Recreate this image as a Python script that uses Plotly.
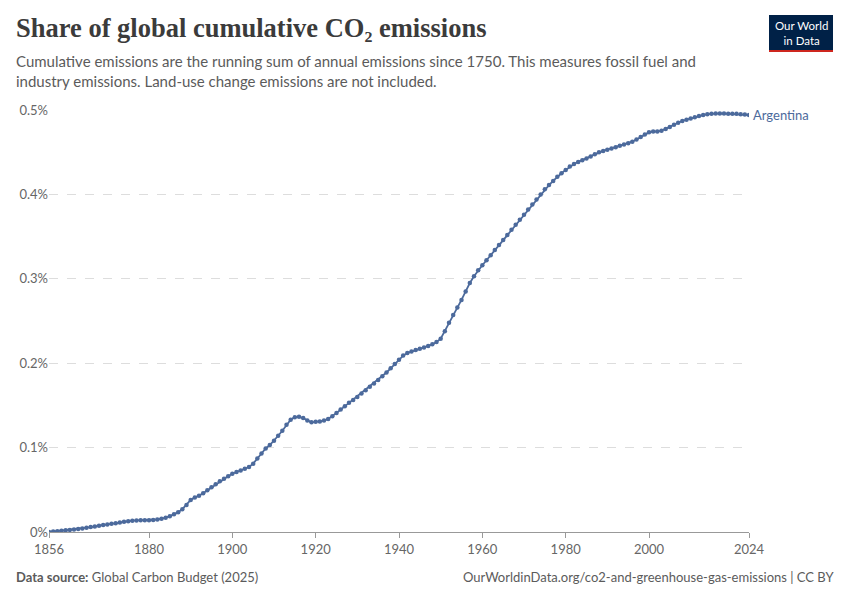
import plotly.graph_objects as go

# ---------------------------------------------------------
# DATA: Argentina share of global cumulative CO2 (%)
# ---------------------------------------------------------

years = list(range(1856, 2025))

share = [
    # 1856-1879
    0.0000, 0.0005, 0.0010, 0.0015, 0.0020, 0.0025, 0.0030, 0.0036, 0.0042, 0.0050,
    0.0058, 0.0066, 0.0074, 0.0082, 0.0090, 0.0097, 0.0104, 0.0112, 0.0120, 0.0128,
    0.0134, 0.0137, 0.0138, 0.0139,
    # 1880-1899
    0.0140, 0.0143, 0.0148, 0.0157, 0.0170, 0.0188, 0.0210, 0.0235, 0.0270, 0.0320,
    0.0380, 0.0410, 0.0430, 0.0460, 0.0495, 0.0530, 0.0565, 0.0600, 0.0630, 0.0660,
    # 1900-1919
    0.0690, 0.0710, 0.0730, 0.0750, 0.0770, 0.0810, 0.0870, 0.0930, 0.0990, 0.1030,
    0.1080, 0.1140, 0.1200, 0.1270, 0.1330, 0.1360, 0.1365, 0.1350, 0.1320, 0.1300,
    # 1920-1939
    0.1305, 0.1310, 0.1320, 0.1340, 0.1370, 0.1410, 0.1450, 0.1490, 0.1530, 0.1565,
    0.1600, 0.1640, 0.1680, 0.1720, 0.1760, 0.1800, 0.1845, 0.1890, 0.1940, 0.1990,
    # 1940-1959
    0.2040, 0.2090, 0.2120, 0.2140, 0.2155, 0.2170, 0.2185, 0.2205, 0.2225, 0.2250,
    0.2290, 0.2380, 0.2480, 0.2570, 0.2660, 0.2750, 0.2850, 0.2950, 0.3030, 0.3100,
    # 1960-1979
    0.3160, 0.3220, 0.3280, 0.3340, 0.3400, 0.3460, 0.3520, 0.3580, 0.3640, 0.3700,
    0.3760, 0.3820, 0.3880, 0.3940, 0.4000, 0.4060, 0.4110, 0.4160, 0.4210, 0.4250,
    # 1980-1999
    0.4290, 0.4330, 0.4360, 0.4385, 0.4405, 0.4425, 0.4450, 0.4475, 0.4500, 0.4515,
    0.4530, 0.4545, 0.4560, 0.4575, 0.4590, 0.4605, 0.4625, 0.4650, 0.4680, 0.4710,
    # 2000-2019
    0.4735, 0.4745, 0.4745, 0.4755, 0.4775, 0.4800, 0.4825, 0.4850, 0.4870, 0.4885,
    0.4900, 0.4915, 0.4930, 0.4940, 0.4950, 0.4955, 0.4960, 0.4960, 0.4958, 0.4955,
    # 2020-2024
    0.4955, 0.4955, 0.4950, 0.4948, 0.4940,
]

x_ticks = [1856, 1880, 1900, 1920, 1940, 1960, 1980, 2000, 2024]
y_ticks = [0, 0.1, 0.2, 0.3, 0.4, 0.5]
y_tick_labels = ["0%", "0.1%", "0.2%", "0.3%", "0.4%", "0.5%"]

country = "Argentina"
line_color = "#4C6A9C"

# page body adds an 8px offset, so the figure is 8px smaller than the window
W, H = 842, 592
ML, MR, MT, MB = 41, 101, 102, 68
PW, PH = W - ML - MR, H - MT - MB


def px(x_ref):
    # window pixel x -> paper x
    return (x_ref - 8 - ML) / PW


def py(y_ref):
    # window pixel y (from top) -> paper y
    return (H - (y_ref - 8) - MB) / PH


# ---------------------------------------------------------
# FIGURE
# ---------------------------------------------------------

fig = go.Figure()

fig.add_trace(go.Scatter(
    x=years, y=share, mode="lines+markers", name=country,
    line=dict(color=line_color, width=1.8),
    marker=dict(color=line_color, size=4.5),
    hovertemplate="%{x}: %{y:.3f}%<extra></extra>",
))

# end-of-line label
fig.add_annotation(
    x=years[-1], y=share[-1], text=country, xref="x", yref="y",
    xanchor="left", yanchor="middle", xshift=2, showarrow=False,
    font=dict(family="Lato", size=13, color=line_color),
)

fig.update_layout(
    width=W, height=H,
    margin=dict(l=ML, r=MR, t=MT, b=MB),
    paper_bgcolor="white", plot_bgcolor="white",
    showlegend=False,
    font=dict(family="Lato", color="#5b5b5b"),
    xaxis=dict(
        range=[1856, 2024], tickvals=x_ticks, ticktext=[str(t) for t in x_ticks],
        showgrid=False, zeroline=False,
        showline=True, linecolor="#999999", linewidth=1,
        ticks="outside", ticklen=5, tickcolor="#999999",
        tickfont=dict(family="Lato", size=13, color="#666666"),
    ),
    yaxis=dict(
        range=[0, 0.5], tickvals=y_ticks, ticktext=y_tick_labels,
        showgrid=True, gridcolor="#dddddd", griddash="dash", gridwidth=1,
        zeroline=False, showline=False, ticks="",
        tickfont=dict(family="Lato", size=13, color="#666666"),
    ),
)

# title and subtitle
fig.add_annotation(
    x=px(14), y=py(11), xref="paper", yref="paper",
    text="<b>Share of global cumulative CO₂ emissions</b>",
    showarrow=False, xanchor="left", yanchor="top",
    font=dict(family="Liberation Serif", size=26.5, color="#3b3b3b"),
)
fig.add_annotation(
    x=px(14), y=py(50), xref="paper", yref="paper",
    text="Cumulative emissions are the running sum of annual emissions since 1750. This measures fossil fuel and<br>industry emissions. Land-use change emissions are not included.",
    showarrow=False, xanchor="left", yanchor="top", align="left",
    font=dict(family="Lato", size=15, color="#5b5b5b"),
)

# footer
fig.add_annotation(
    x=px(14), y=py(577), xref="paper", yref="paper",
    text="<b>Data source:</b> Global Carbon Budget (2025)",
    showarrow=False, xanchor="left", yanchor="middle",
    font=dict(family="Lato", size=13, color="#5b5b5b"),
)
fig.add_annotation(
    x=px(836), y=py(577), xref="paper", yref="paper",
    text="OurWorldinData.org/co2-and-greenhouse-gas-emissions | CC BY",
    showarrow=False, xanchor="right", yanchor="middle",
    font=dict(family="Lato", size=13, color="#5b5b5b"),
)

# logo
fig.add_shape(type="rect", xref="paper", yref="paper",
              x0=px(769), x1=px(833), y0=py(50), y1=py(15),
              fillcolor="#002147", line=dict(width=0))
fig.add_shape(type="rect", xref="paper", yref="paper",
              x0=px(769), x1=px(833), y0=py(52), y1=py(50),
              fillcolor="#CE261E", line=dict(width=0))
fig.add_annotation(
    x=px(801), y=py(32.5), xref="paper", yref="paper",
    text="Our World<br>in Data", showarrow=False, xanchor="center", yanchor="middle",
    font=dict(family="Lato", size=11.5, color="white"),
)

fig.write_html("out.html")
